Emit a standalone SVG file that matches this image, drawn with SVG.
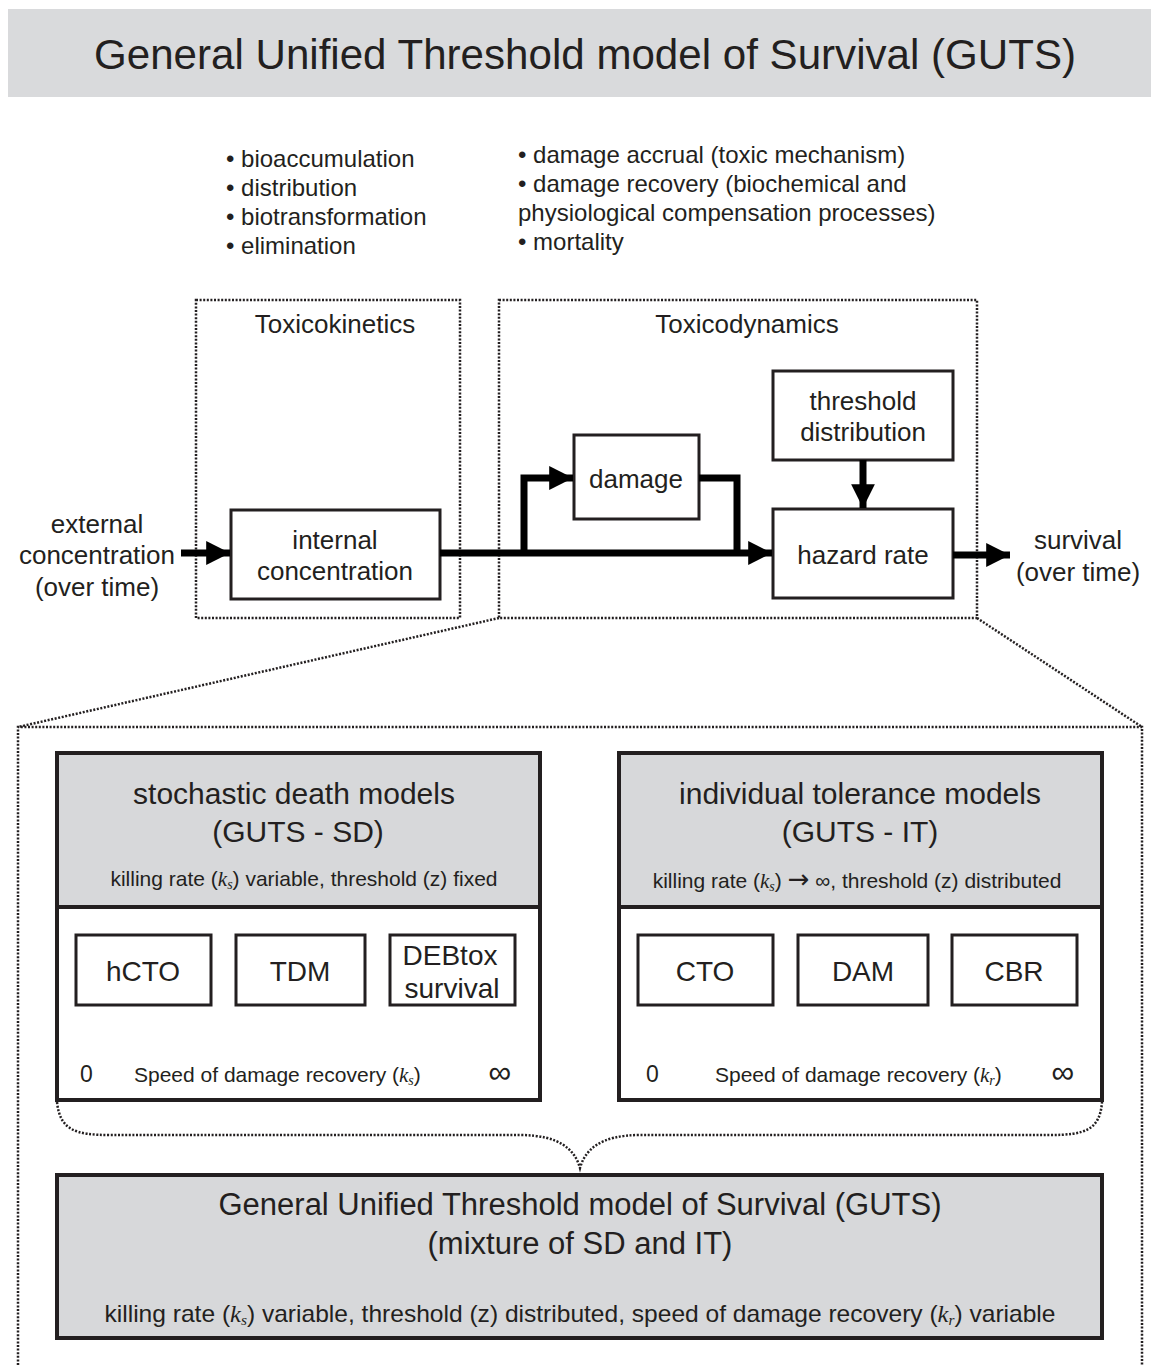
<svg xmlns="http://www.w3.org/2000/svg" width="1151" height="1365" viewBox="0 0 1151 1365">
<style>
text{font-family:"Liberation Sans",Arial,sans-serif;fill:#231f20}
.m{font-family:"Liberation Serif","Times New Roman",serif;font-style:italic}
.box{fill:#fff;stroke:#231f20;stroke-width:3}
.gbox{fill:#d7d8da;stroke:#231f20;stroke-width:4}
.dot{fill:none;stroke:#231f20;stroke-width:2.5;stroke-dasharray:2 1.6}
.thick{fill:none;stroke:#000;stroke-width:7}
.c{text-anchor:middle}
.n{font-size:26px}
</style>
<defs>
<marker id="ah" viewBox="0 0 10 10" refX="10" refY="5" markerWidth="3.4" markerHeight="3.4" orient="auto" markerUnits="strokeWidth">
<path d="M0,0 L10,5 L0,10 z" fill="#000"/>
</marker>
<marker id="sa" viewBox="0 0 10 10" refX="10" refY="5" markerWidth="5" markerHeight="5" orient="auto" markerUnits="strokeWidth">
<path d="M0,1 L10,5 L0,9 z" fill="#000"/>
</marker>
</defs>

<g id="title">
<rect x="8" y="9" width="1143" height="88" fill="#d9dadc"/>
<text x="585" y="69" class="c" font-size="42" textLength="982" lengthAdjust="spacingAndGlyphs">General Unified Threshold model of Survival (GUTS)</text>
</g>

<g id="tk-notes" font-size="24">
<text x="226" y="167">• bioaccumulation</text>
<text x="226" y="196">• distribution</text>
<text x="226" y="225">• biotransformation</text>
<text x="226" y="254">• elimination</text>
</g>
<g id="td-notes" font-size="24">
<text x="518" y="163">• damage accrual (toxic mechanism)</text>
<text x="518" y="192">• damage recovery (biochemical and</text>
<text x="518" y="221">physiological compensation processes)</text>
<text x="518" y="250">• mortality</text>
</g>

<g id="toxicokinetics">
<rect x="196" y="300" width="264" height="318" class="dot"/>
<text x="335" y="333" class="c n">Toxicokinetics</text>
</g>
<g id="toxicodynamics">
<rect x="499" y="300" width="478" height="318" class="dot"/>
<text x="747" y="333" class="c n">Toxicodynamics</text>
</g>

<g id="external">
<text x="97" y="533" class="c n">external</text>
<text x="97" y="564" class="c n">concentration</text>
<text x="97" y="596" class="c n">(over time)</text>
</g>
<g id="internal">
<rect x="231" y="510" width="209" height="89" class="box"/>
<text x="335" y="549" class="c n">internal</text>
<text x="335" y="580" class="c n">concentration</text>
</g>
<g id="damage">
<rect x="574" y="435" width="125" height="84" class="box"/>
<text x="636" y="488" class="c n">damage</text>
</g>
<g id="threshold">
<rect x="773" y="371" width="180" height="89" class="box"/>
<text x="863" y="410" class="c n">threshold</text>
<text x="863" y="441" class="c n">distribution</text>
</g>
<g id="hazard">
<rect x="773" y="509" width="180" height="89" class="box"/>
<text x="863" y="564" class="c n">hazard rate</text>
</g>
<g id="survival">
<text x="1078" y="549" class="c n">survival</text>
<text x="1078" y="581" class="c n">(over time)</text>
</g>

<g id="connectors">
<line x1="181" y1="553" x2="230" y2="553" class="thick" marker-end="url(#ah)"/>
<line x1="440" y1="553" x2="772" y2="553" class="thick" marker-end="url(#ah)"/>
<polyline points="524,553 524,478 573,478" class="thick" marker-end="url(#ah)"/>
<polyline points="699,478 737,478 737,553" class="thick"/>
<line x1="863" y1="460" x2="863" y2="508" class="thick" marker-end="url(#ah)"/>
<line x1="953" y1="555" x2="1010" y2="555" class="thick" marker-end="url(#ah)"/>
<line x1="499" y1="618" x2="18" y2="727" class="dot"/>
<line x1="977" y1="618" x2="1142" y2="727" class="dot"/>
<path d="M57,1102 C60,1130 75,1135 110,1135 L520,1135 C560,1135 575,1150 580,1168 C585,1150 600,1135 640,1135 L1050,1135 C1085,1135 1100,1130 1102,1102" class="dot"/>
<line x1="76" y1="1040" x2="515" y2="1040" stroke="#000" stroke-width="2" marker-end="url(#sa)"/>
<line x1="645" y1="1040" x2="1081" y2="1040" stroke="#000" stroke-width="2" marker-end="url(#sa)"/>
</g>

<g id="zoom-frame">
<path d="M18,1365 L18,727 L1142,727 L1142,1365" class="dot"/>
</g>

<g id="sd-models">
<rect x="57" y="753" width="483" height="347" fill="#fff" stroke="#231f20" stroke-width="4"/>
<rect x="57" y="753" width="483" height="154" class="gbox"/>
<text x="294" y="804" class="c" font-size="30">stochastic death models</text>
<text x="298" y="842" class="c" font-size="30">(GUTS - SD)</text>
<text x="304" y="886" class="c" font-size="21">killing rate (<tspan class="m">k</tspan><tspan class="m" font-size="14" dy="3">s</tspan><tspan dy="-3">) variable, threshold (</tspan><tspan>z</tspan>) fixed</text>
</g>
<g id="hcto"><rect x="76" y="935" width="135" height="70" class="box"/><text x="143" y="981" class="c" font-size="28">hCTO</text></g>
<g id="tdm"><rect x="236" y="935" width="129" height="70" class="box"/><text x="300" y="981" class="c" font-size="28">TDM</text></g>
<g id="debtox"><rect x="390" y="935" width="125" height="70" class="box"/><text x="450" y="965" class="c" font-size="28">DEBtox</text><text x="452" y="998" class="c" font-size="28">survival</text></g>
<g id="sd-axis">
<text x="80" y="1082" font-size="23">0</text>
<text x="134" y="1082" font-size="21">Speed of damage recovery (<tspan class="m">k</tspan><tspan class="m" font-size="14" dy="3">s</tspan><tspan dy="-3">)</tspan></text>
<text x="500" y="1083" class="c" font-size="32">∞</text>
</g>

<g id="it-models">
<rect x="619" y="753" width="483" height="347" fill="#fff" stroke="#231f20" stroke-width="4"/>
<rect x="619" y="753" width="483" height="154" class="gbox"/>
<text x="860" y="804" class="c" font-size="30">individual tolerance models</text>
<text x="860" y="842" class="c" font-size="30">(GUTS - IT)</text>
<text x="857" y="888" class="c" font-size="21">killing rate (<tspan class="m">k</tspan><tspan class="m" font-size="14" dy="3">s</tspan><tspan dy="-3">) </tspan><tspan font-size="26" font-family="DejaVu Sans">→</tspan> ∞, threshold (z) distributed</text>
</g>
<g id="cto"><rect x="638" y="935" width="135" height="70" class="box"/><text x="705" y="981" class="c" font-size="28">CTO</text></g>
<g id="dam"><rect x="798" y="935" width="130" height="70" class="box"/><text x="863" y="981" class="c" font-size="28">DAM</text></g>
<g id="cbr"><rect x="952" y="935" width="125" height="70" class="box"/><text x="1014" y="981" class="c" font-size="28">CBR</text></g>
<g id="it-axis">
<text x="646" y="1082" font-size="23">0</text>
<text x="715" y="1082" font-size="21">Speed of damage recovery (<tspan class="m">k</tspan><tspan class="m" font-size="14" dy="3">r</tspan><tspan dy="-3">)</tspan></text>
<text x="1063" y="1083" class="c" font-size="32">∞</text>
</g>

<g id="guts-mixture">
<rect x="57" y="1175" width="1045" height="163" class="gbox"/>
<text x="580" y="1215" class="c" font-size="31">General Unified Threshold model of Survival (GUTS)</text>
<text x="580" y="1254" class="c" font-size="31">(mixture of SD and IT)</text>
<text x="580" y="1322" class="c" font-size="24" textLength="951" lengthAdjust="spacingAndGlyphs">killing rate (<tspan class="m">k</tspan><tspan class="m" font-size="15" dy="3">s</tspan><tspan dy="-3">) variable, threshold (z) distributed, speed of damage recovery (</tspan><tspan class="m">k</tspan><tspan class="m" font-size="15" dy="3">r</tspan><tspan dy="-3">) variable</tspan></text>
</g>
</svg>
